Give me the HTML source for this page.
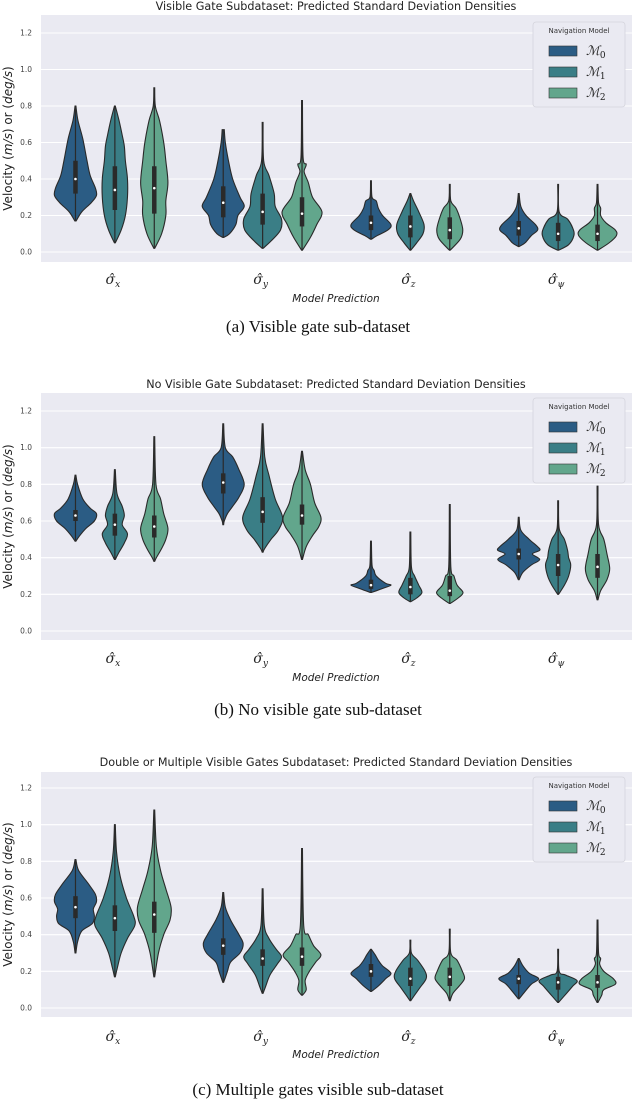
<!DOCTYPE html>
<html><head><meta charset="utf-8"><style>
html,body{margin:0;padding:0;background:#fff;}
svg{display:block;font-family:"DejaVu Sans","Liberation Sans",sans-serif;}
</style></head><body>
<svg id="fig" width="636" height="1100" viewBox="0 0 636 1100" xmlns="http://www.w3.org/2000/svg"></svg>
<script>
// ---------- DATA ----------
const categories = ["x","y","z","ψ"];
const models = ["0","1","2"];
const yTicks = [0.0,0.2,0.4,0.6,0.8,1.0,1.2];
const titles = [
 "Visible Gate Subdataset: Predicted Standard Deviation Densities",
 "No Visible Gate Subdataset: Predicted Standard Deviation Densities",
 "Double or Multiple Visible Gates Subdataset: Predicted Standard Deviation Densities"];
const captions = ["(a) Visible gate sub-dataset","(b) No visible gate sub-dataset","(c) Multiple gates visible sub-dataset"];

// density knots [value, relative density] per category per model
const densA = [
 [[[0.8,0.02],[0.72,0.12],[0.62,0.35],[0.5,0.55],[0.42,0.7],[0.35,0.95],[0.31,1.0],[0.27,0.75],[0.22,0.3],[0.17,0.03]],
  [[0.8,0.02],[0.72,0.2],[0.64,0.35],[0.58,0.45],[0.5,0.5],[0.4,0.6],[0.3,0.6],[0.2,0.5],[0.12,0.3],[0.05,0.02]],
  [[0.9,0.02],[0.8,0.05],[0.72,0.25],[0.6,0.45],[0.5,0.55],[0.38,0.65],[0.28,0.55],[0.2,0.55],[0.1,0.35],[0.02,0.02]]],
 [[[0.67,0.05],[0.6,0.1],[0.5,0.25],[0.4,0.45],[0.3,0.8],[0.25,1.0],[0.2,0.7],[0.15,0.6],[0.1,0.3],[0.08,0.02]],
  [[0.71,0.02],[0.5,0.05],[0.42,0.3],[0.32,0.55],[0.25,0.6],[0.18,0.9],[0.12,0.85],[0.06,0.4],[0.02,0.02]],
  [[0.83,0.02],[0.52,0.05],[0.48,0.2],[0.44,0.1],[0.38,0.3],[0.3,0.5],[0.22,0.95],[0.15,0.7],[0.08,0.4],[0.01,0.02]]],
 [[[0.39,0.02],[0.3,0.05],[0.28,0.25],[0.24,0.35],[0.2,0.55],[0.15,0.95],[0.12,0.8],[0.09,0.3],[0.07,0.02]],
  [[0.32,0.02],[0.28,0.15],[0.22,0.4],[0.15,0.65],[0.1,0.6],[0.05,0.3],[0.01,0.02]],
  [[0.37,0.02],[0.28,0.05],[0.24,0.3],[0.18,0.5],[0.12,0.62],[0.07,0.5],[0.01,0.02]]],
 [[[0.32,0.02],[0.25,0.1],[0.2,0.35],[0.15,0.8],[0.12,0.9],[0.09,0.6],[0.05,0.3],[0.03,0.02]],
  [[0.37,0.02],[0.22,0.05],[0.18,0.45],[0.13,0.7],[0.09,0.75],[0.04,0.5],[0.01,0.02]],
  [[0.37,0.02],[0.27,0.05],[0.24,0.15],[0.2,0.15],[0.16,0.4],[0.12,0.85],[0.09,0.9],[0.05,0.55],[0.01,0.02]]]
];
const medA = [[0.40,0.34,0.35],[0.27,0.22,0.21],[0.16,0.14,0.12],[0.13,0.10,0.10]];
const q1A  = [[0.32,0.23,0.21],[0.19,0.15,0.14],[0.12,0.08,0.07],[0.09,0.06,0.06]];
const q3A  = [[0.50,0.47,0.47],[0.36,0.32,0.30],[0.20,0.20,0.19],[0.17,0.16,0.15]];

const densB = [
 [[[0.85,0.02],[0.8,0.1],[0.72,0.35],[0.67,0.7],[0.64,1.0],[0.6,0.9],[0.56,0.5],[0.52,0.2],[0.49,0.02]],
  [[0.88,0.02],[0.75,0.1],[0.68,0.35],[0.63,0.45],[0.58,0.35],[0.53,0.6],[0.48,0.45],[0.43,0.2],[0.39,0.02]],
  [[1.06,0.02],[0.8,0.08],[0.72,0.3],[0.64,0.45],[0.56,0.65],[0.5,0.55],[0.45,0.35],[0.4,0.1],[0.38,0.02]]],
 [[[1.13,0.02],[1.0,0.1],[0.95,0.45],[0.88,0.75],[0.8,1.0],[0.73,0.75],[0.68,0.45],[0.64,0.2],[0.6,0.05],[0.58,0.02]],
  [[1.13,0.02],[0.95,0.1],[0.85,0.3],[0.72,0.6],[0.62,0.95],[0.55,0.75],[0.5,0.4],[0.45,0.1],[0.43,0.02]],
  [[0.98,0.02],[0.88,0.15],[0.8,0.4],[0.7,0.6],[0.62,0.9],[0.57,0.8],[0.52,0.5],[0.46,0.2],[0.39,0.02]]],
 [[[0.49,0.02],[0.36,0.05],[0.33,0.15],[0.3,0.25],[0.26,0.7],[0.25,0.95],[0.23,0.5],[0.21,0.02]],
  [[0.54,0.02],[0.35,0.05],[0.3,0.2],[0.25,0.4],[0.21,0.55],[0.18,0.3],[0.16,0.02]],
  [[0.69,0.02],[0.35,0.05],[0.3,0.2],[0.25,0.35],[0.21,0.63],[0.18,0.4],[0.15,0.02]]],
 [[[0.62,0.02],[0.55,0.1],[0.5,0.5],[0.46,0.9],[0.44,1.0],[0.42,0.65],[0.39,1.0],[0.36,0.6],[0.32,0.2],[0.28,0.02]],
  [[0.71,0.02],[0.56,0.05],[0.5,0.3],[0.44,0.45],[0.4,0.5],[0.36,0.6],[0.3,0.5],[0.25,0.3],[0.2,0.02]],
  [[0.79,0.02],[0.58,0.05],[0.5,0.3],[0.42,0.45],[0.34,0.58],[0.28,0.45],[0.22,0.15],[0.17,0.02]]]
];
const medB = [[0.63,0.58,0.57],[0.81,0.65,0.63],[0.25,0.24,0.22],[0.42,0.36,0.35]];
const q1B  = [[0.60,0.52,0.51],[0.75,0.59,0.58],[0.23,0.20,0.19],[0.39,0.30,0.29]];
const q3B  = [[0.66,0.64,0.63],[0.86,0.73,0.69],[0.28,0.29,0.30],[0.45,0.42,0.42]];

const densC = [
 [[[0.81,0.02],[0.75,0.15],[0.68,0.6],[0.62,0.95],[0.58,1.0],[0.54,0.85],[0.5,0.9],[0.46,0.8],[0.42,0.3],[0.36,0.1],[0.3,0.02]],
  [[1.0,0.02],[0.85,0.08],[0.72,0.25],[0.6,0.55],[0.5,0.9],[0.45,0.95],[0.38,0.6],[0.3,0.3],[0.22,0.12],[0.17,0.02]],
  [[1.08,0.02],[0.88,0.1],[0.75,0.3],[0.65,0.55],[0.55,0.8],[0.48,0.75],[0.4,0.45],[0.3,0.2],[0.17,0.02]]],
 [[[0.63,0.02],[0.55,0.1],[0.48,0.35],[0.4,0.75],[0.35,0.95],[0.3,0.8],[0.25,0.35],[0.2,0.2],[0.14,0.02]],
  [[0.65,0.02],[0.45,0.08],[0.38,0.3],[0.32,0.65],[0.28,0.9],[0.24,0.7],[0.18,0.35],[0.12,0.15],[0.08,0.02]],
  [[0.87,0.02],[0.45,0.08],[0.4,0.3],[0.34,0.55],[0.29,0.9],[0.25,0.65],[0.2,0.35],[0.15,0.15],[0.1,0.2],[0.07,0.02]]],
 [[[0.32,0.02],[0.29,0.2],[0.26,0.35],[0.23,0.55],[0.19,0.95],[0.16,0.7],[0.12,0.35],[0.09,0.02]],
  [[0.37,0.02],[0.3,0.05],[0.26,0.35],[0.2,0.7],[0.16,0.75],[0.11,0.45],[0.07,0.2],[0.04,0.02]],
  [[0.43,0.02],[0.3,0.05],[0.26,0.35],[0.2,0.6],[0.16,0.7],[0.12,0.45],[0.08,0.15],[0.04,0.02]]],
 [[[0.27,0.02],[0.23,0.2],[0.19,0.5],[0.16,0.95],[0.13,0.6],[0.09,0.3],[0.05,0.02]],
  [[0.32,0.02],[0.2,0.05],[0.18,0.35],[0.15,0.9],[0.12,0.7],[0.08,0.4],[0.03,0.02]],
  [[0.48,0.02],[0.3,0.05],[0.27,0.15],[0.24,0.1],[0.2,0.3],[0.16,0.75],[0.13,0.85],[0.1,0.3],[0.07,0.2],[0.03,0.02]]]
];
const medC = [[0.55,0.49,0.51],[0.34,0.27,0.28],[0.20,0.16,0.17],[0.16,0.14,0.14]];
const q1C  = [[0.49,0.42,0.41],[0.29,0.23,0.23],[0.17,0.12,0.12],[0.13,0.10,0.11]];
const q3C  = [[0.61,0.56,0.58],[0.38,0.32,0.33],[0.24,0.22,0.22],[0.18,0.17,0.18]];

// ---------- LAYOUT ----------
const NS="http://www.w3.org/2000/svg";
const svg=document.getElementById('fig');
const colors=["#2b5c84","#3a7e86","#62a68c"];
const panels=[
 {top:15,bottom:262,y0:252,y12:33,xl:280,ml:298,cap:326,title:6,leg:22,dens:densA,med:medA,q1:q1A,q3:q3A},
 {top:393,bottom:640,y0:631,y12:411,xl:659,ml:677,cap:709,title:384,leg:398,dens:densB,med:medB,q1:q1B,q3:q3B},
 {top:772,bottom:1017,y0:1008,y12:788,xl:1037,ml:1054,cap:1089,title:762,leg:777,dens:densC,med:medC,q1:q1C,q3:q3C}
];
const L=41,R=632,catW=(R-L)/categories.length,dodge=catW*0.8/3,maxHalf=21;
function el(tag,attrs,parent){const e=document.createElementNS(NS,tag);for(const k in attrs)e.setAttribute(k,attrs[k]);(parent||svg).appendChild(e);return e;}
function smooth(pts){let d=`M${pts[0][0]},${pts[0][1]}`;for(let i=0;i<pts.length-1;i++){const p0=pts[Math.max(i-1,0)],p1=pts[i],p2=pts[i+1],p3=pts[Math.min(i+2,pts.length-1)];const c1=[p1[0]+(p2[0]-p0[0])/6,p1[1]+(p2[1]-p0[1])/6],c2=[p2[0]-(p3[0]-p1[0])/6,p2[1]-(p3[1]-p1[1])/6];d+=` C${c1[0].toFixed(2)},${c1[1].toFixed(2)} ${c2[0].toFixed(2)},${c2[1].toFixed(2)} ${p2[0].toFixed(2)},${p2[1].toFixed(2)}`;}return d;}

panels.forEach((P,pi)=>{
 const g=el('g',{});
 
 
 const ys=v=>P.y0-(P.y0-P.y12)*v/1.2;
 const xs=(c,m)=>L+catW*(c+0.5)+(m-1)*dodge;
 const bg=el('rect',{x:L,y:P.top,width:R-L,height:P.bottom-P.top,fill:"#eaeaf2"},g);
 
 
 yTicks.forEach(t=>{
  const ln=el('line',{x1:L,x2:R,y1:ys(t),y2:ys(t),stroke:"#fff","stroke-width":1.1},g);
  
  
  const tx=el('text',{x:32,y:ys(t)+2.5,"text-anchor":"end","font-size":7.5,fill:"#444"},g);
  
  
  tx.textContent=t.toFixed(1);
 });
 const ttl=el('text',{x:336,y:P.title+4,"text-anchor":"middle","font-size":11.2,fill:"#222"},g);
 
 
 ttl.textContent=titles[pi];
 const yl=el('text',{x:0,y:0,"text-anchor":"middle","font-size":12,fill:"#222",transform:`translate(12,${(P.top+P.bottom)/2}) rotate(-90)`},g);
 
 
 yl.innerHTML='Velocity (<tspan font-style="italic">m/s</tspan>) or (<tspan font-style="italic">deg/s</tspan>)';
 categories.forEach((c,ci)=>{
  const cx=L+catW*(ci+0.5);
  const xt=el('text',{x:cx-2,y:P.xl+4,"text-anchor":"middle","font-size":14,"font-style":"italic",fill:"#222","font-family":"DejaVu Serif, serif"},g);
  
  
  xt.innerHTML='σ̂<tspan font-size="9" dy="3">'+c+'</tspan>';
  models.forEach((m,mi)=>{
   const d=P.dens[ci][mi],x=xs(ci,mi);
   const right=d.map(k=>[x+k[1]*maxHalf,ys(k[0])]);
   const left=d.slice().reverse().map(k=>[x-k[1]*maxHalf,ys(k[0])]);
   const top=d[0][0],bot=d[d.length-1][0];
   const path=smooth(right)+' L'+left[0][0]+','+left[0][1]+smooth(left).replace(/^M[^C]*/,' ')+'Z';
   const v=el('path',{d:path,fill:colors[mi],stroke:"#2a2a2a","stroke-width":1.1},g);
   
   
   const wh=el('line',{x1:x,x2:x,y1:ys(top),y2:ys(bot),stroke:"#2a2a2a","stroke-width":1.2},g);
   
   
   const bx=el('line',{x1:x,x2:x,y1:ys(P.q3[ci][mi]),y2:ys(P.q1[ci][mi]),stroke:"#2a2a2a","stroke-width":4.5},g);
   
   
   const md=el('circle',{cx:x,cy:ys(P.med[ci][mi]),r:1.3,fill:"#fff"},g);
   
   
  });
 });
 const ml=el('text',{x:336,y:P.ml+4,"text-anchor":"middle","font-size":10.5,"font-style":"italic",fill:"#222"},g);
 
 
 ml.textContent="Model Prediction";
 const cap=el('text',{x:318,y:P.cap+6,"text-anchor":"middle","font-size":17,fill:"#111","font-family":"Liberation Serif, serif"},g);
 
 
 cap.textContent=captions[pi];
 // legend
 const lg=el('g',{},g);
 
 
 el('rect',{x:533,y:P.leg,width:92,height:85,rx:3,fill:"#eaeaf2",stroke:"#d4d4dc","stroke-width":0.8},lg);
 const lt=el('text',{x:579,y:P.leg+11,"text-anchor":"middle","font-size":7,fill:"#333"},lg);
 
 
 lt.textContent="Navigation Model";
 models.forEach((m,mi)=>{
  const yy=P.leg+24+mi*21;
  const r=el('rect',{x:549,y:yy,width:28,height:10,fill:colors[mi],stroke:"#333","stroke-width":0.6},lg);
  
  
  const t=el('text',{x:586,y:yy+9,"font-size":13,"font-style":"italic",fill:"#222","font-family":"DejaVu Serif, serif"},lg);
  
  
  t.innerHTML='ℳ<tspan font-size="9" font-style="normal" dy="3">'+m+'</tspan>';
 });
});
</script>
</body></html>
